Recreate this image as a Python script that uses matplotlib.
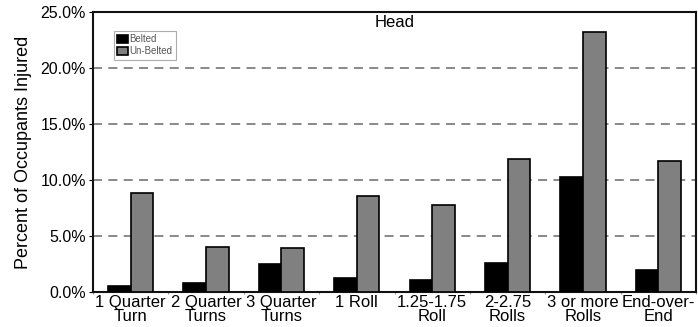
import numpy as np
import matplotlib.pyplot as plt
from matplotlib.ticker import PercentFormatter

categories = ["1 Quarter\nTurn", "2 Quarter\nTurns", "3 Quarter\nTurns", "1 Roll",
              "1.25-1.75\nRoll", "2-2.75\nRolls", "3 or more\nRolls", "End-over-\nEnd"]
belted = [0.55, 0.8, 2.5, 1.25, 1.05, 2.6, 10.3, 2.0]
unbelted = [8.85, 4.0, 3.95, 8.6, 7.75, 11.9, 23.2, 11.7]

plt.rcParams["font.family"] = ["Liberation Sans", "DejaVu Sans"]

fig = plt.figure(figsize=(6.98, 3.27), dpi=100)
ax = fig.add_axes([93 / 698, 35 / 327, 603 / 698, 280 / 327])

x = np.arange(len(categories))
w = 0.3
ax.bar(x - w / 2, belted, w, color="black", edgecolor="black", linewidth=1.2,
       label="Belted", zorder=3)
ax.bar(x + w / 2, unbelted, w, color="#808080", edgecolor="black", linewidth=1.2,
       label="Un-Belted", zorder=3)

ax.set_xlim(-0.5, len(categories) - 0.5)
ax.set_ylim(0, 25)
ax.set_yticks(np.arange(0, 26, 5))
ax.yaxis.set_major_formatter(PercentFormatter(decimals=1))
ax.grid(axis="y", color="#808080", linestyle=(0, (5, 3.5)), linewidth=1.3, zorder=1)

ax.set_xticks(x)
ax.set_xticklabels(categories, fontsize=12, linespacing=0.9)
ax.set_xticks(np.arange(-0.5, len(categories)), minor=True)
ax.tick_params(axis="x", which="major", length=0, pad=2)
ax.tick_params(axis="x", which="minor", length=1.5, width=0.8, color="#999999",
               direction="out")
ax.tick_params(axis="y", labelsize=11.5, length=3, pad=2)

for s in ax.spines.values():
    s.set_linewidth(1.5)
    s.set_color("#111111")

ax.set_ylabel("Percent of Occupants Injured", fontsize=13, labelpad=6)
ax.text(0.5, 0.988, "Head", transform=ax.transAxes, ha="center", va="top", fontsize=12)

leg = ax.legend(loc="upper left", bbox_to_anchor=(0.026, 0.95), fontsize=7,
                frameon=True, fancybox=False, handlelength=1.1, handleheight=0.9,
                handletextpad=0.2, borderpad=0.35, labelspacing=0.2)
leg.get_frame().set_edgecolor("#999999")
leg.get_frame().set_linewidth(0.8)
for t in leg.get_texts():
    t.set_color("#555555")

fig.savefig("out.png", dpi=100)
